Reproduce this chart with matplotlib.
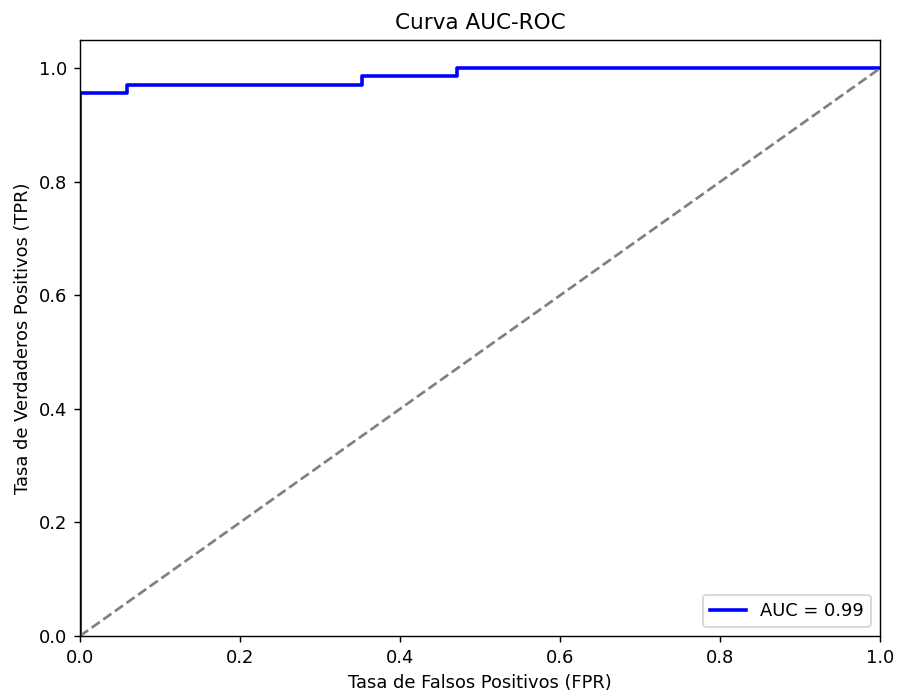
import numpy as np
import matplotlib
matplotlib.use("Agg")
import matplotlib.pyplot as plt

# ROC points (step curve)
fpr = [0.0, 0.0, 0.0588, 0.0588, 0.3529, 0.3529, 0.4706, 0.4706, 1.0]
tpr = [0.0, 0.957, 0.957, 0.971, 0.971, 0.986, 0.986, 1.0, 1.0]
auc_label = "AUC = 0.99"

DPI = 129
fig = plt.figure(figsize=(898 / DPI, 694 / DPI), dpi=DPI)
ax = fig.add_axes([0.0891, 0.0836, 0.8909, 0.8588])

ax.plot(fpr, tpr, color='blue', lw=2, label=auc_label)
ax.plot([0, 1], [0, 1], color='gray', linestyle='--', lw=1.5)

ax.set_xlim(0.0, 1.0)
ax.set_ylim(0.0, 1.05)
ax.set_xlabel("Tasa de Falsos Positivos (FPR)")
ax.set_ylabel("Tasa de Verdaderos Positivos (TPR)")
ax.set_title("Curva AUC-ROC")
ax.legend(loc="lower right")

fig.savefig("out.png", dpi=DPI)
